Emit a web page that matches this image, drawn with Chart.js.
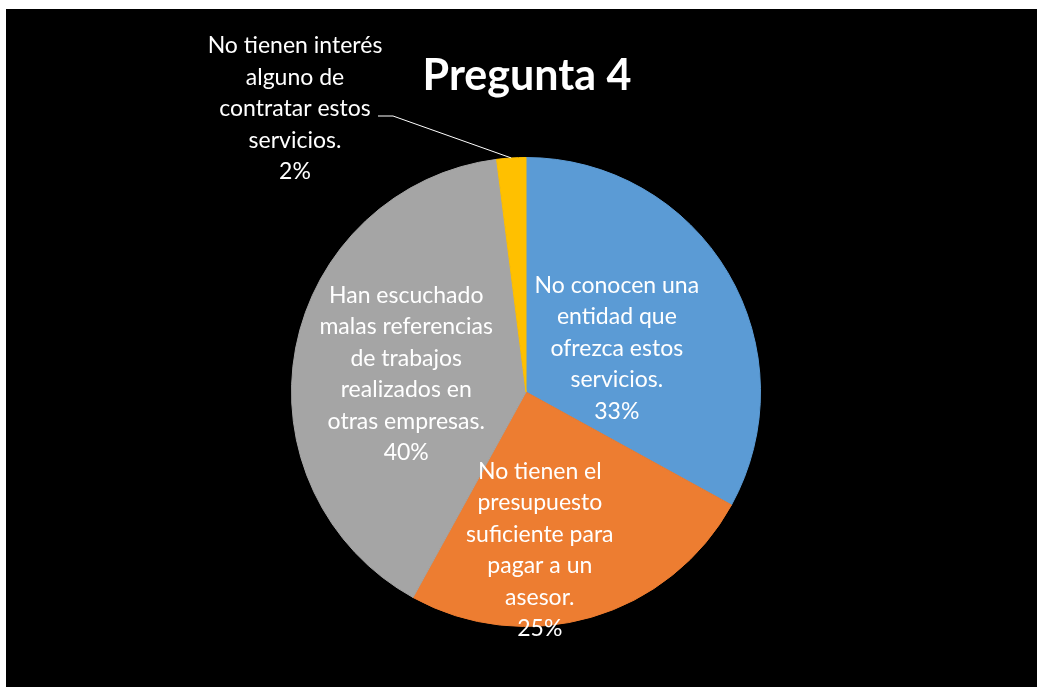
<!DOCTYPE html>
<html>
<head>
<meta charset="utf-8">
<script src="https://cdn.jsdelivr.net/npm/chart.js@4/dist/chart.umd.min.js"></script>
<style>
  body { margin: 0; background: #fff; }
  #wrap { position: absolute; left: 6px; top: 9px; width: 1031px; height: 678px; background: #000; }
</style>
</head>
<body>
<div id="wrap"><canvas id="pieChart"></canvas></div>
<script>
// respuestas a la pregunta 4
var categories = [
  ["No conocen una", "entidad que", "ofrezca estos", "servicios."],
  ["No tienen el", "presupuesto", "suficiente para", "pagar a un", "asesor."],
  ["Han escuchado", "malas referencias", "de trabajos", "realizados en", "otras empresas."],
  ["No tienen interés", "alguno de", "contratar estos", "servicios."]
];
var values = [33, 25, 40, 2];
var colors = ['#5B9BD5', '#ED7D31', '#A5A5A5', '#FFC000'];
var chartTitle = 'Pregunta 4';

var labelFont = '23px Lato';
var lineH = 31.5;

// where each label sits: fraction of radius along the middle angle, plus a nudge
var labelPlace = [
  { r: 0.45, dx: 0, dy: 10 },
  { r: 0.67, dx: -30, dy: 7 },
  { r: 0.52, dx: 0, dy: 5 },
  { outside: true, tx: -231, ty: -283 }
];

function pctText(i) {
  var total = values.reduce(function (a, b) { return a + b; }, 0);
  return Math.round(values[i] / total * 100) + '%';
}

var pieLabels = {
  id: 'pieLabels',
  afterDatasetsDraw: function (chart) {
    var ctx = chart.ctx;
    var arcs = chart.getDatasetMeta(0).data;
    ctx.save();
    ctx.fillStyle = '#fff';
    ctx.textAlign = 'center';
    ctx.textBaseline = 'middle';

    // title
    ctx.font = 'bold 43px Lato';
    ctx.fillText(chartTitle, arcs[0].x + 1, 67);

    ctx.font = labelFont;
    arcs.forEach(function (arc, i) {
      var lines = categories[i].concat([pctText(i)]);
      var mid = (arc.startAngle + arc.endAngle) / 2;
      var p = labelPlace[i];
      var cx, cy;
      if (p.outside) {
        // leader line from the slice edge to the text
        var ex = arc.x + Math.cos(mid) * arc.outerRadius;
        var ey = arc.y + Math.sin(mid) * arc.outerRadius;
        cx = arc.x + p.tx;
        cy = arc.y + p.ty;
        var ly = cy + 7;
        ctx.strokeStyle = '#fff';
        ctx.lineWidth = 1;
        ctx.beginPath();
        ctx.moveTo(ex, ey);
        ctx.lineTo(cx + 98, ly);
        ctx.lineTo(cx + 83, ly);
        ctx.stroke();
      } else {
        cx = arc.x + Math.cos(mid) * arc.outerRadius * p.r + p.dx;
        cy = arc.y + Math.sin(mid) * arc.outerRadius * p.r + p.dy;
      }
      var top = cy - (lines.length - 1) * lineH / 2;
      lines.forEach(function (t, k) {
        ctx.fillText(t, cx, top + k * lineH);
      });
    });
    ctx.restore();
  }
};

new Chart(document.getElementById('pieChart'), {
  type: 'pie',
  data: {
    labels: categories.map(function (c) { return c.join(' '); }),
    datasets: [{
      data: values,
      backgroundColor: colors,
      borderColor: colors,   // same colour as the fill, hides the seams
      borderWidth: 1
    }]
  },
  options: {
    responsive: true,
    maintainAspectRatio: false,
    animation: false,
    layout: { padding: { top: 148, bottom: 60, left: 9, right: 0 } },
    plugins: {
      legend: { display: false },
      tooltip: { enabled: false }
    }
  },
  plugins: [pieLabels]
});
</script>
</body>
</html>
